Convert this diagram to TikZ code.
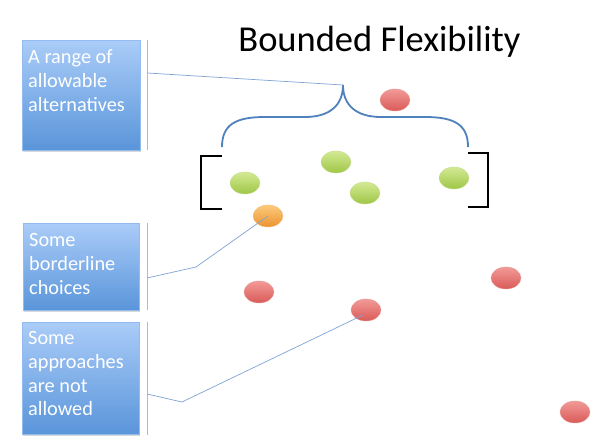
\documentclass[tikz,border=0pt]{standalone}
\usepackage{fontspec}
\setmainfont{Carlito}
\usetikzlibrary{shapes.geometric,shadows}
\definecolor{boxtop}{HTML}{AACCF8}
\definecolor{boxbot}{HTML}{5A95DA}
\definecolor{sidecol}{HTML}{A3C0E4}
\definecolor{linkcol}{HTML}{7FA4D6}
\definecolor{bracecol}{HTML}{4F81BD}
\definecolor{redtop}{HTML}{F29A98}
\definecolor{redbot}{HTML}{DA5A57}
\definecolor{greentop}{HTML}{D3EA95}
\definecolor{greenbot}{HTML}{9FC646}
\definecolor{orangetop}{HTML}{FCCB7C}
\definecolor{orangebot}{HTML}{EB9430}
\begin{document}
\begin{tikzpicture}[x=1pt,y=-1pt,
  infobox/.style={rectangle, anchor=north west, inner sep=0pt, top color=boxtop, bottom color=boxbot, draw=boxtop!70!boxbot, line width=0.3pt, drop shadow={shadow xshift=1pt, shadow yshift=-1.5pt, opacity=0.3}},
  infotext/.style={anchor=base west, inner sep=0pt, text=white, align=left, font=\fontsize{20.3}{23.8}\selectfont},
  sideline/.style={draw=sidecol, line width=0.9pt},
  link/.style={draw=linkcol, line width=0.7pt},
  dot/.style={ellipse, minimum width=30pt, minimum height=22pt, inner sep=0pt, line width=0.4pt},
  reddot/.style={dot, top color=redtop, bottom color=redbot, draw=redbot!60!white},
  greendot/.style={dot, top color=greentop, bottom color=greenbot, draw=greenbot!60!white},
  orangedot/.style={dot, top color=orangetop, bottom color=orangebot, draw=orangebot!60!white},
  bracket/.style={draw=black, line width=1.6pt},
  bracestyle/.style={draw=bracecol, line width=1.8pt}
]
\useasboundingbox (0,0) rectangle (600,443);
\fill[white] (0,0) rectangle (600,443);

% title
\node[font=\fontsize{36.5}{40}\selectfont, anchor=base] (title) at (379.5,52) {Bounded Flexibility};

% boxes
\node[infobox, minimum width=118pt, minimum height=110pt] (box1) at (22,40) {};
\node[infobox, minimum width=116pt, minimum height=87pt] (box2) at (23,223) {};
\node[infobox, minimum width=117pt, minimum height=112pt] (box3) at (22,322) {};
% texts (anchor = baseline of last line)
\node[infotext] (t1) at (28,111.5) {A range of\\allowable\\alternatives};
\node[infotext] (t2) at (29,294.5) {Some\\borderline\\choices};
\node[infotext] (t3) at (28,416) {Some\\approaches\\are not\\allowed};

% side lines
\coordinate (s1a) at (147,40); \coordinate (s1b) at (147,150);
\coordinate (s2a) at (147,223); \coordinate (s2b) at (147,310);
\coordinate (s3a) at (147,322); \coordinate (s3b) at (147,435);
\draw[sideline] (s1a) -- (s1b);
\draw[sideline] (s2a) -- (s2b);
\draw[sideline] (s3a) -- (s3b);

% dots
\node[greendot] (g1) at (245,183) {};
\node[greendot] (g2) at (336,162) {};
\node[greendot] (g3) at (365,193) {};
\node[greendot] (g4) at (454,178) {};
\node[reddot] (r1) at (395,100) {};
\node[orangedot] (o1) at (268,216) {};
\node[reddot] (r2) at (259,292) {};
\node[reddot] (r3) at (366,310) {};
\node[reddot] (r4) at (506,278) {};
\node[reddot] (r5) at (575,412) {};

% brace
\coordinate (tip) at (343,85);
\coordinate (bl) at (222,147);
\coordinate (br) at (468,147);
\draw[bracestyle] (bl) .. controls (222,125) and (235,117) .. (265,117)
  -- (305,117) .. controls (330,117) and (343,105) .. (tip)
  .. controls (343,105) and (356,117) .. (381,117)
  -- (425,117) .. controls (455,117) and (468,125) .. (br);

% brackets
\draw[bracket] (222,156) -- (201,156) -- (201,209) -- (222,209);
\draw[bracket] (468,153) -- (488,153) -- (488,207) -- (468,207);

% connectors
\coordinate (c1) at (147,73);
\draw[link] (c1) -- (tip);
\coordinate (c2) at (147,278);
\coordinate (k2) at (196,267);
\draw[link] (c2) -- (k2) -- (o1.center);
\coordinate (c3) at (147,394);
\coordinate (k3) at (182,402);
\draw[link] (c3) -- (k3) -- ([shift={(-3,5)}]r3.center);
\end{tikzpicture}
\end{document}
